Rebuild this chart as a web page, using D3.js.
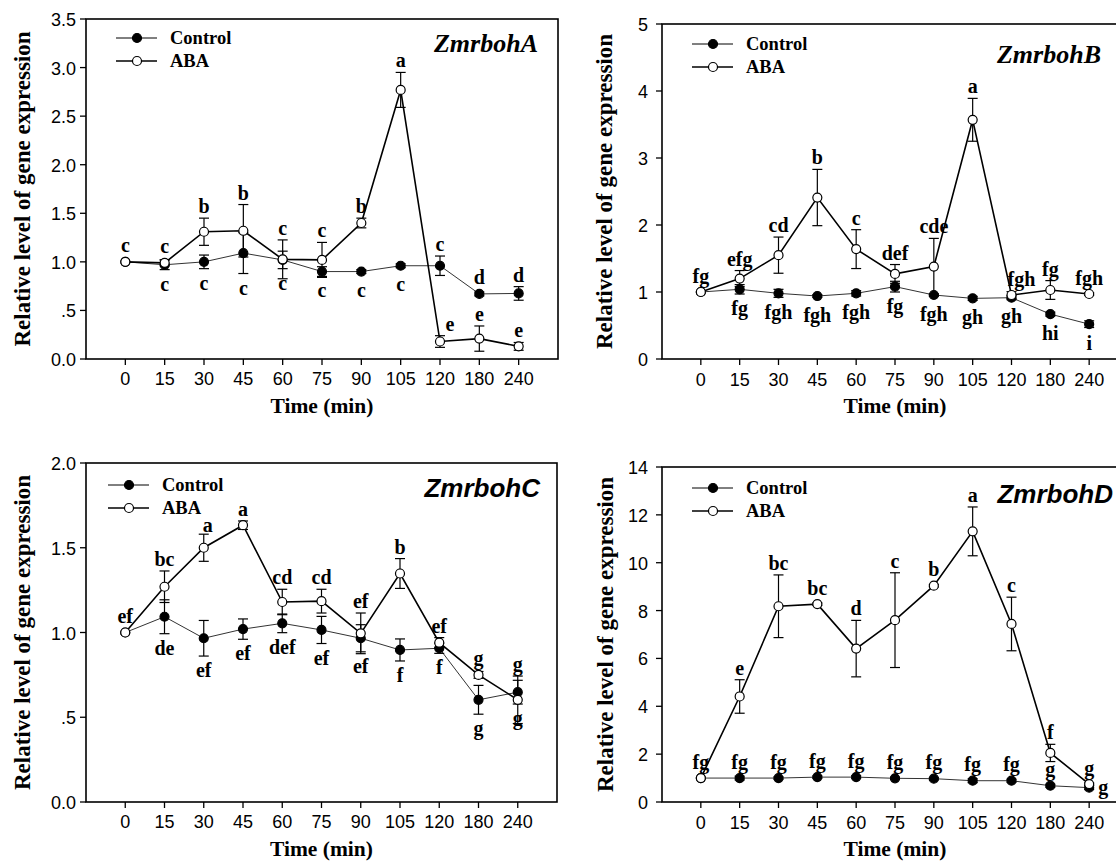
<!DOCTYPE html>
<html>
<head>
<meta charset="utf-8">
<script src="https://d3js.org/d3.v7.min.js"></script>
<style>
  body { margin: 0; background: #fff; }
  svg { display: block; }
  .tick-label { font-family: "Liberation Sans", Arial, sans-serif; font-size: 18px; fill: #000; }
  .serif-bold { font-family: "Liberation Serif", "Times New Roman", serif; font-weight: bold; fill: #000; }
</style>
</head>
<body>
<div id="chart"></div>
<script>
// time points (categorical x axis)
const times = ['0', '15', '30', '45', '60', '75', '90', '105', '120', '180', '240'];

// ZmrbohA
const ctrlA    = [1.00, 0.97, 1.00, 1.09, 1.02, 0.90, 0.90, 0.96, 0.96, 0.67, 0.675];
const ctrlAErr = [0.00, 0.05, 0.07, 0.21, 0.09, 0.05, 0.02, 0.02, 0.10, 0.02, 0.07];
const abaA     = [1.00, 0.99, 1.31, 1.32, 1.026, 1.02, 1.40, 2.77, 0.18, 0.21, 0.13];
const abaAErr  = [0.00, 0.03, 0.14, 0.27, 0.20, 0.18, 0.05, 0.18, 0.06, 0.13, 0.04];
const ctrlALet = ['', 'c', 'c', 'c', 'c', 'c', 'c', 'c', 'c', 'd', 'd'];
const ctrlAPos = ['', 'd', 'd', 'd', 'd', 'd', 'd', 'd', 'u', 'u', 'u'];
const abaALet  = ['c', 'c', 'b', 'b', 'c', 'c', 'b', 'a', 'e', 'e', 'e'];
const abaAPos  = ['u', 'u', 'u', 'u', 'u', 'u', 'u', 'u', 'ur', 'u', 'u'];

// ZmrbohB
const ctrlB    = [1.00, 1.04, 0.98, 0.94, 0.98, 1.08, 0.955, 0.905, 0.915, 0.67, 0.52];
const ctrlBErr = [0.00, 0.07, 0.06, 0.02, 0.04, 0.08, 0.02, 0.03, 0.03, 0.03, 0.05];
const abaB     = [1.00, 1.20, 1.55, 2.41, 1.64, 1.27, 1.38, 3.57, 0.955, 1.03, 0.97];
const abaBErr  = [0.00, 0.12, 0.27, 0.42, 0.29, 0.14, 0.42, 0.32, 0.05, 0.14, 0.02];
const ctrlBLet = ['', 'fg', 'fgh', 'fgh', 'fgh', 'fg', 'fgh', 'gh', 'gh', 'hi', 'i'];
const ctrlBPos = ['', 'd', 'd', 'd', 'd', 'd', 'd', 'd', 'd', 'd', 'd'];
const abaBLet  = ['fg', 'efg', 'cd', 'b', 'c', 'def', 'cde', 'a', 'fgh', 'fg', 'fgh'];
const abaBPos  = ['u', 'u', 'u', 'u', 'u', 'u', 'u', 'u', 'ur', 'u', 'u'];

// ZmrbohC
const ctrlC    = [1.00, 1.093, 0.966, 1.02, 1.054, 1.015, 0.966, 0.897, 0.907, 0.603, 0.648];
const ctrlCErr = [0.00, 0.10, 0.105, 0.06, 0.055, 0.08, 0.08, 0.065, 0.03, 0.085, 0.07];
const abaC     = [1.00, 1.27, 1.50, 1.633, 1.18, 1.185, 0.995, 1.348, 0.94, 0.75, 0.603];
const abaCErr  = [0.00, 0.093, 0.08, 0.025, 0.075, 0.07, 0.12, 0.088, 0.03, 0.02, 0.14];
const ctrlCLet = ['', 'de', 'ef', 'ef', 'def', 'ef', 'ef', 'f', 'f', 'g', 'g'];
const ctrlCPos = ['', 'd', 'd', 'd', 'd', 'd', 'd', 'd', 'd', 'd', 'd'];
const abaCLet  = ['ef', 'bc', 'a', 'a', 'cd', 'cd', 'ef', 'b', 'ef', 'g', 'g'];
const abaCPos  = ['u', 'u', 'us', 'u', 'u', 'u', 'u', 'u', 'u', 'u', 'u'];

// ZmrbohD
const ctrlD    = [1.00, 1.00, 1.00, 1.04, 1.04, 0.99, 0.975, 0.89, 0.89, 0.68, 0.60];
const ctrlDErr = [0.00, 0.08, 0.05, 0.05, 0.06, 0.05, 0.05, 0.08, 0.06, 0.06, 0.08];
const abaD     = [1.00, 4.41, 8.18, 8.27, 6.41, 7.60, 9.04, 11.31, 7.44, 2.05, 0.75];
const abaDErr  = [0.00, 0.70, 1.31, 0.05, 1.18, 1.98, 0.05, 1.02, 1.12, 0.36, 0.05];
const ctrlDLet = ['', 'fg', 'fg', 'fg', 'fg', 'fg', 'fg', 'fg', 'fg', 'g', 'g'];
const ctrlDPos = ['', 'u', 'u', 'u', 'u', 'u', 'u', 'u', 'u', 'u', 'r'];
const abaDLet  = ['fg', 'e', 'bc', 'bc', 'd', 'c', 'b', 'a', 'c', 'f', 'g'];
const abaDPos  = ['u', 'u', 'u', 'u', 'u', 'u', 'u', 'u', 'u', 'u', 'u'];

const yTicksA = [0, 0.5, 1, 1.5, 2, 2.5, 3, 3.5];
const yTicksB = [0, 1, 2, 3, 4, 5];
const yTicksC = [0, 0.5, 1, 1.5, 2];
const yTicksD = [0, 2, 4, 6, 8, 10, 12, 14];

const fmtDec = d => d === 0.5 ? '.5' : d3.format('.1f')(d);
const fmtInt = d3.format('d');

const panels = [
  { title: 'ZmrbohA', sans: false, left: 86, top: 19, w: 472, h: 340, yMax: 3.5, ticks: yTicksA, fmt: fmtDec,
    ctrl: ctrlA, ctrlErr: ctrlAErr, aba: abaA, abaErr: abaAErr,
    ctrlLet: ctrlALet, ctrlPos: ctrlAPos, abaLet: abaALet, abaPos: abaAPos,
    yLabX: 30, yPad: 10, xLabDy: 26, titleDx: -20, titleDy: 33, legDx: 30, legDy: 19 },
  { title: 'ZmrbohB', sans: false, left: 662, top: 24, w: 466, h: 335, yMax: 5, ticks: yTicksB, fmt: fmtInt,
    ctrl: ctrlB, ctrlErr: ctrlBErr, aba: abaB, abaErr: abaBErr,
    ctrlLet: ctrlBLet, ctrlPos: ctrlBPos, abaLet: abaBLet, abaPos: abaBPos,
    yLabX: 612, yPad: 14, xLabDy: 27, titleDx: -15, titleDy: 39, legDx: 30, legDy: 20 },
  { title: 'ZmrbohC', sans: true, left: 86, top: 463, w: 471, h: 339, yMax: 2, ticks: yTicksC, fmt: fmtDec,
    ctrl: ctrlC, ctrlErr: ctrlCErr, aba: abaC, abaErr: abaCErr,
    ctrlLet: ctrlCLet, ctrlPos: ctrlCPos, abaLet: abaCLet, abaPos: abaCPos,
    yLabX: 30, yPad: 10, xLabDy: 26, titleDx: -17, titleDy: 34, legDx: 22, legDy: 22 },
  { title: 'ZmrbohD', sans: true, left: 662, top: 467, w: 466, h: 335, yMax: 14, ticks: yTicksD, fmt: fmtInt,
    ctrl: ctrlD, ctrlErr: ctrlDErr, aba: abaD, abaErr: abaDErr,
    ctrlLet: ctrlDLet, ctrlPos: ctrlDPos, abaLet: abaDLet, abaPos: abaDPos,
    yLabX: 613, yPad: 14, xLabDy: 27, titleDx: -3, titleDy: 36, legDx: 30, legDy: 21 }
];

const svg = d3.select('#chart').append('svg')
  .attr('width', 1116)
  .attr('height', 862);

panels.forEach(p => {
  const x = d3.scaleLinear().domain([-1, times.length]).range([p.left, p.left + p.w]);
  const y = d3.scaleLinear().domain([0, p.yMax]).range([p.top + p.h, p.top]);
  const g = svg.append('g');
  const bottom = p.top + p.h;

  // frame
  g.append('rect')
    .attr('x', p.left).attr('y', p.top)
    .attr('width', p.w).attr('height', p.h)
    .attr('fill', 'none').attr('stroke', '#000').attr('stroke-width', 1.6);

  // y axis ticks
  const yAxis = g.append('g');
  yAxis.selectAll('line').data(p.ticks).enter().append('line')
    .attr('x1', p.left - 6).attr('x2', p.left)
    .attr('y1', d => y(d)).attr('y2', d => y(d))
    .attr('stroke', '#000').attr('stroke-width', 1.3);
  yAxis.selectAll('text').data(p.ticks).enter().append('text')
    .attr('class', 'tick-label')
    .attr('x', p.left - p.yPad)
    .attr('y', d => y(d) + 7)
    .attr('text-anchor', 'end')
    .text(p.fmt);

  // x axis ticks
  const xAxis = g.append('g');
  xAxis.selectAll('line').data(times).enter().append('line')
    .attr('x1', (d, i) => x(i)).attr('x2', (d, i) => x(i))
    .attr('y1', bottom).attr('y2', bottom + 6)
    .attr('stroke', '#000').attr('stroke-width', 1.3);
  xAxis.selectAll('text').data(times).enter().append('text')
    .attr('class', 'tick-label')
    .attr('x', (d, i) => x(i))
    .attr('y', bottom + p.xLabDy)
    .attr('text-anchor', 'middle')
    .text(d => d);

  // axis titles
  g.append('text')
    .attr('class', 'serif-bold')
    .attr('transform', `translate(${p.yLabX},${p.top + p.h / 2}) rotate(-90)`)
    .attr('text-anchor', 'middle')
    .style('font-size', '23px')
    .text('Relative level of gene expression');
  g.append('text')
    .attr('class', 'serif-bold')
    .attr('x', p.left + p.w / 2)
    .attr('y', bottom + 54)
    .attr('text-anchor', 'middle')
    .style('font-size', '21.5px')
    .text('Time (min)');

  // gene name
  g.append('text')
    .attr('x', Math.min(p.left + p.w, 1116) + p.titleDx)
    .attr('y', p.top + p.titleDy)
    .attr('text-anchor', 'end')
    .style('font-family', p.sans ? '"Liberation Sans", Arial, sans-serif' : '"Liberation Serif", "Times New Roman", serif')
    .style('font-weight', 'bold')
    .style('font-style', 'italic')
    .style('font-size', '26px')
    .text(p.title);

  const series = [
    { vals: p.ctrl, err: p.ctrlErr, fill: '#000', width: 1, stroke: '#333' },
    { vals: p.aba, err: p.abaErr, fill: '#fff', width: 1.6, stroke: '#000' }
  ];

  series.forEach(s => {
    const line = d3.line().x((d, i) => x(i)).y(d => y(d));
    g.append('path')
      .attr('d', line(s.vals))
      .attr('fill', 'none')
      .attr('stroke', s.stroke)
      .attr('stroke-width', s.width);

    // error bars
    const eb = g.append('g').attr('stroke', '#000').attr('stroke-width', 1.2);
    s.vals.forEach((v, i) => {
      const e = s.err[i];
      if (!e) return;
      const cx = x(i);
      eb.append('line').attr('x1', cx).attr('x2', cx).attr('y1', y(v - e)).attr('y2', y(v + e));
      [v - e, v + e].forEach(t => {
        eb.append('line').attr('x1', cx - 5).attr('x2', cx + 5).attr('y1', y(t)).attr('y2', y(t));
      });
    });

    g.append('g').selectAll('circle').data(s.vals).enter().append('circle')
      .attr('cx', (d, i) => x(i))
      .attr('cy', d => y(d))
      .attr('r', 4.5)
      .attr('fill', s.fill)
      .attr('stroke', '#000')
      .attr('stroke-width', 1.2);
  });

  // significance letters: u = above, ur/us = above and shifted right, d = below, r = right
  const addLetters = (vals, err, lets, pos) => {
    lets.forEach((t, i) => {
      if (!t) return;
      const cx = x(i);
      let tx = cx, ty, anchor = 'middle';
      if (pos[i][0] === 'u') {
        ty = Math.min(y(vals[i] + err[i]), y(vals[i]) - 4.5) - 5;
        if (pos[i] === 'ur') tx = cx + 10;
        if (pos[i] === 'us') { tx = cx + 4; ty += 3; }
      } else if (pos[i] === 'd') {
        ty = Math.max(y(vals[i] - err[i]), y(vals[i]) + 4.5) + 21;
      } else {
        tx = cx + 9; ty = y(vals[i]) + 6; anchor = 'start';
      }
      g.append('text')
        .attr('class', 'serif-bold')
        .attr('x', tx).attr('y', ty)
        .attr('text-anchor', anchor)
        .style('font-size', '20px')
        .text(t);
    });
  };
  addLetters(p.ctrl, p.ctrlErr, p.ctrlLet, p.ctrlPos);
  addLetters(p.aba, p.abaErr, p.abaLet, p.abaPos);

  // legend
  const lx = p.left + p.legDx, ly = p.top + p.legDy;
  [{ name: 'Control', fill: '#000', width: 1 }, { name: 'ABA', fill: '#fff', width: 1.4 }].forEach((l, k) => {
    const yy = ly + k * 23;
    g.append('line').attr('x1', lx).attr('x2', lx + 41).attr('y1', yy).attr('y2', yy)
      .attr('stroke', '#000').attr('stroke-width', l.width);
    g.append('circle').attr('cx', lx + 21).attr('cy', yy).attr('r', 4.5)
      .attr('fill', l.fill).attr('stroke', '#000').attr('stroke-width', 1.2);
    g.append('text')
      .attr('class', 'serif-bold')
      .attr('x', lx + 54).attr('y', yy + 6)
      .style('font-size', '18.5px')
      .text(l.name);
  });
});
</script>
</body>
</html>
